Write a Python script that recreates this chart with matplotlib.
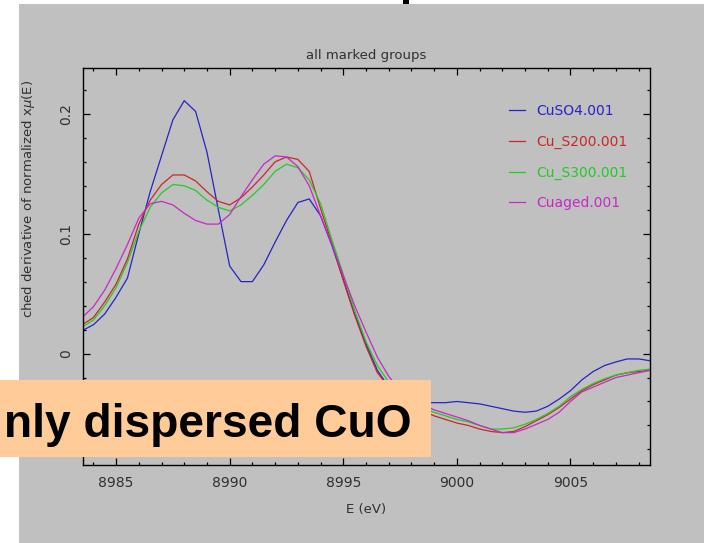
import matplotlib
matplotlib.use("Agg")
import matplotlib.pyplot as plt
from matplotlib.patches import Rectangle
from matplotlib.ticker import MultipleLocator

# energia (eV) y derivadas de mu(E) normalizada
energy = [8983.5, 8984.0, 8984.5, 8985.0, 8985.5, 8986.0, 8986.5, 8987.0, 8987.5, 8988.0,
          8988.5, 8989.0, 8989.5, 8990.0, 8990.5, 8991.0, 8991.5, 8992.0, 8992.5, 8993.0,
          8993.5, 8994.0, 8994.5, 8995.0, 8995.5, 8996.0, 8996.5, 8997.0, 8997.5, 8998.0,
          8998.5, 8999.0, 8999.5, 9000.0, 9000.5, 9001.0, 9001.5, 9002.0, 9002.5, 9003.0,
          9003.5, 9004.0, 9004.5, 9005.0, 9005.5, 9006.0, 9006.5, 9007.0, 9007.5, 9008.0,
          9008.5]

cuso4 = [0.019, 0.024, 0.033, 0.047, 0.063, 0.100, 0.135, 0.165, 0.195, 0.211,
         0.202, 0.168, 0.120, 0.073, 0.060, 0.060, 0.074, 0.093, 0.111, 0.126,
         0.129, 0.115, 0.090, 0.062, 0.033, 0.008, -0.014, -0.028, -0.036, -0.040,
         -0.041, -0.041, -0.041, -0.040, -0.041, -0.042, -0.044, -0.046, -0.048, -0.049,
         -0.048, -0.044, -0.038, -0.031, -0.022, -0.015, -0.010, -0.007, -0.0045, -0.0045,
         -0.006]

cu_s200 = [0.024, 0.030, 0.043, 0.058, 0.079, 0.108, 0.128, 0.141, 0.149, 0.149,
           0.144, 0.135, 0.127, 0.124, 0.130, 0.139, 0.149, 0.160, 0.164, 0.162,
           0.152, 0.121, 0.092, 0.061, 0.032, 0.006, -0.016, -0.028, -0.037, -0.043,
           -0.048, -0.052, -0.055, -0.058, -0.060, -0.063, -0.065, -0.066, -0.065, -0.061,
           -0.056, -0.051, -0.045, -0.038, -0.031, -0.026, -0.022, -0.018, -0.016, -0.015,
           -0.014]

cu_s300 = [0.022, 0.028, 0.040, 0.055, 0.076, 0.102, 0.122, 0.134, 0.141, 0.140,
           0.136, 0.128, 0.122, 0.119, 0.124, 0.132, 0.141, 0.152, 0.158, 0.155,
           0.145, 0.125, 0.095, 0.066, 0.036, 0.010, -0.010, -0.024, -0.034, -0.041,
           -0.046, -0.049, -0.052, -0.055, -0.057, -0.060, -0.063, -0.063, -0.062, -0.059,
           -0.055, -0.050, -0.044, -0.036, -0.030, -0.025, -0.021, -0.018, -0.016, -0.014,
           -0.013]

cuaged = [0.030, 0.039, 0.053, 0.071, 0.091, 0.113, 0.125, 0.127, 0.124, 0.117,
          0.111, 0.108, 0.108, 0.116, 0.131, 0.145, 0.158, 0.165, 0.164, 0.156,
          0.140, 0.115, 0.091, 0.065, 0.040, 0.018, -0.003, -0.019, -0.031, -0.039,
          -0.043, -0.047, -0.050, -0.053, -0.056, -0.060, -0.063, -0.066, -0.066, -0.063,
          -0.059, -0.055, -0.049, -0.040, -0.032, -0.028, -0.024, -0.020, -0.018, -0.016,
          -0.014]

series = [("CuSO4.001", cuso4, "#2424c8"),
          ("Cu_S200.001", cu_s200, "#c82828"),
          ("Cu_S300.001", cu_s300, "#28c828"),
          ("Cuaged.001", cuaged, "#c828c8")]

gris = "#c0c0c0"
texto = "#303030"

fig = plt.figure(figsize=(7.04, 5.43), dpi=100, facecolor="white")

# fondo gris de la captura
fig.add_artist(Rectangle((19 / 704, 0), 1, 539 / 543, transform=fig.transFigure,
                         facecolor=gris, edgecolor="none", zorder=-5))
# trocito del titulo de la diapositiva
fig.add_artist(Rectangle((403 / 704, 539 / 543), 6 / 704, 4 / 543, transform=fig.transFigure,
                         facecolor="black", edgecolor="none", zorder=-4))

ax = fig.add_axes([82.7 / 704, 78 / 543, 567.3 / 704, 396.7 / 543])
ax.set_facecolor(gris)

for nombre, valores, color in series:
    ax.plot(energy, valores, color=color, lw=0.9, label=nombre)

ax.set_xlim(8983.53, 9008.5)
ax.set_ylim(-0.093, 0.238)
ax.xaxis.set_major_locator(MultipleLocator(5))
ax.xaxis.set_minor_locator(MultipleLocator(1))
ax.yaxis.set_major_locator(MultipleLocator(0.1))
ax.yaxis.set_minor_locator(MultipleLocator(0.02))
ax.yaxis.set_major_formatter(matplotlib.ticker.FuncFormatter(lambda v, p: "0" if abs(v) < 1e-9 else f"{v:g}"))

ax.tick_params(which="both", direction="in", top=True, right=True, color="black", width=0.9)
ax.tick_params(which="major", length=5, labelsize=10, labelcolor=texto)
ax.tick_params(which="minor", length=2.5)
ax.tick_params(axis="x", pad=8)
ax.tick_params(axis="y", pad=7)
for lab in ax.get_yticklabels():
    lab.set_rotation(90)
    lab.set_va("center")
for s in ax.spines.values():
    s.set_color("black")
    s.set_linewidth(1)

ax.set_title("all marked groups", fontsize=9.5, color=texto, pad=7)
ax.set_xlabel("E (eV)", fontsize=9.5, color=texto, labelpad=9)
fig.text(29 / 704, 1 - 80 / 543, "ched derivative of normalized x$\\mu$(E)", rotation=90,
         ha="center", va="top", fontsize=9.5, color=texto)

leg = ax.legend(loc="upper left", bbox_to_anchor=(0.7514, 0.910), frameon=False,
                fontsize=10, labelcolor="linecolor", handlelength=1.15, handletextpad=0.8,
                labelspacing=1.2, borderpad=0, borderaxespad=0)

# recuadro naranja de la diapositiva encima del grafico
fig.add_artist(Rectangle((0, 86 / 543), 431 / 704, 77 / 543, transform=fig.transFigure,
                         facecolor="#ffcc99", edgecolor="none", zorder=10))
fig.text(411 / 704, 106 / 543, "nly dispersed CuO", ha="right", va="baseline",
         fontsize=33.2, fontweight="bold", family="Liberation Sans", color="black", zorder=11)

plt.savefig("out.png", dpi=100, facecolor=fig.get_facecolor())
